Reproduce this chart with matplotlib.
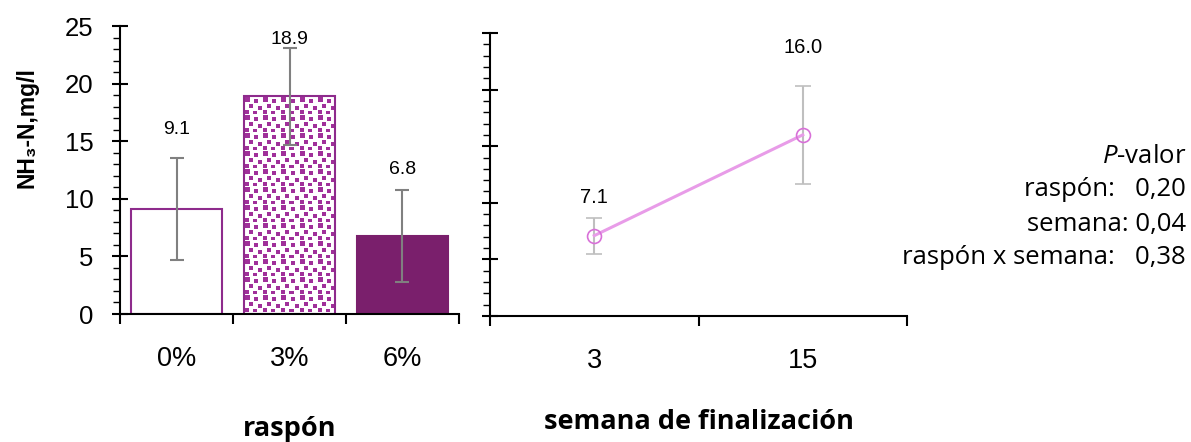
import numpy as np
import matplotlib
matplotlib.use("Agg")
import matplotlib.pyplot as plt
from matplotlib.ticker import MultipleLocator, FixedLocator

# datos
rasp_cats = ["0%", "3%", "6%"]
rasp_vals = [9.1, 18.9, 6.8]
rasp_err = [4.45, 4.2, 4.0]
rasp_label_y = [16.0, 23.8, 12.5]

sem_cats = ["3", "15"]
sem_vals = [7.1, 16.0]
sem_err = [1.6, 4.3]
sem_label_y = [10.5, 23.7]

pval_terms = ["raspón:   ", "semana: ", "raspón x semana:   "]
pval_vals = ["0,20", "0,04", "0,38"]

purple_edge = "#8E2B8C"
purple_dark = "#7A1F6C"
purple_dots = "#A0309A"
line_col = "#E89CE8"
marker_col = "#D870D8"

plt.rcParams["font.family"] = ["Liberation Sans", "DejaVu Sans"]
plt.rcParams["mathtext.fontset"] = "custom"
plt.rcParams["mathtext.it"] = "Open Sans:italic"
plt.rcParams["mathtext.rm"] = "Open Sans"
title_font = ["Open Sans", "DejaVu Sans"]

W, H = 1191, 442
fig = plt.figure(figsize=(W / 100, H / 100), dpi=100)
ax1 = fig.add_axes([120 / W, 1 - 314 / H, 339 / W, 288 / H])
ax2 = fig.add_axes([490 / W, 1 - 316 / H, 417 / W, 283 / H])

# ---- panel izquierdo: barras
x1 = np.arange(len(rasp_cats))
bars = ax1.bar(x1, rasp_vals, width=0.8,
               color=["white", "none", purple_dark],
               edgecolor=[purple_edge, purple_edge, purple_dark],
               linewidth=1.5, zorder=2)
ax1.errorbar(x1, rasp_vals, yerr=rasp_err, fmt="none", ecolor="#808080",
             elinewidth=1.5, capsize=5, capthick=1.5, zorder=3)
for xi, v, ly in zip(x1, rasp_vals, rasp_label_y):
    ax1.text(xi, ly, f"{v:.1f}", ha="center", va="center", fontsize=14)

ax1.set_xlim(-0.5, len(rasp_cats) - 0.5)
ax1.set_ylim(0, 25)

# relleno "confeti" de la barra de 3%
fig.canvas.draw()
bb = bars[1].get_window_extent()
tile = np.zeros((18, 18))
for r, c, s in [(1, 1, 5), (3, 10, 4), (8, 5, 4), (10, 14, 4), (14, 1, 4), (15, 9, 4)]:
    tile[r:r + s, c:c + s] = 1
pw, ph = int(round(bb.width)), int(round(bb.height))
mask = np.tile(tile, (ph // 18 + 1, pw // 18 + 1))[:ph, :pw]
rgb = np.array(matplotlib.colors.to_rgb(purple_dots))
img = np.ones((ph, pw, 3)) * (1 - mask[..., None]) + rgb * mask[..., None]
b = bars[1]
ax1.imshow(img, extent=(b.get_x(), b.get_x() + b.get_width(), 0, b.get_height()),
           aspect="auto", interpolation="nearest", zorder=1.5, clip_path=b)
ax1.set_xlim(-0.5, len(rasp_cats) - 0.5)
ax1.set_ylim(0, 25)

# ---- panel derecho: línea
x2 = np.arange(len(sem_cats))
ax2.errorbar(x2, sem_vals, yerr=sem_err, color=line_col, lw=2.2,
             marker="o", ms=10, mfc="none", mec=marker_col, mew=1.2,
             ecolor="#BFBFBF", elinewidth=1.5, capsize=6, capthick=1.5)
for xi, v, ly in zip(x2, sem_vals, sem_label_y):
    ax2.text(xi, ly, f"{v:.1f}", ha="center", va="center", fontsize=14.5)
ax2.set_xlim(-0.5, len(sem_cats) - 0.5)
ax2.set_ylim(0, 25)

for ax, cats in [(ax1, rasp_cats), (ax2, sem_cats)]:
    for s in ["top", "right"]:
        ax.spines[s].set_visible(False)
    for s in ["left", "bottom"]:
        ax.spines[s].set_linewidth(1.5)
    ax.set_yticks(range(0, 26, 5))
    ax.yaxis.set_minor_locator(MultipleLocator(1))
    ax.tick_params(axis="y", which="major", direction="inout", length=12,
                   width=1.5, labelsize=18.5, pad=13)
    ax.tick_params(axis="y", which="minor", direction="out", length=5, width=1)
    ax.set_xticks(range(len(cats)))
    ax.set_xticklabels(cats)
    ax.xaxis.set_minor_locator(FixedLocator(np.arange(-0.5, len(cats), 1)))
    ax.tick_params(axis="x", which="major", length=0, labelsize=19.5, pad=23)
    ax.tick_params(axis="x", which="minor", direction="out", length=7, width=1.5)

ax2.tick_params(axis="y", labelleft=False)

# títulos
fig.text(27 / W, 1 - 128 / H, "NH₃-N,mg/l", rotation=90, ha="center",
         va="center", fontsize=16.5, fontweight="bold")
fig.text(289.5 / W, 1 - 429 / H, "raspón", ha="center", va="center",
         fontsize=19.5, fontweight="bold", family=title_font)
fig.text(698.5 / W, 1 - 422 / H, "semana de finalización", ha="center",
         va="center", fontsize=19.5, fontweight="bold", family=title_font)

# P-valores
fig.text(1186 / W, 1 - 156 / H, r"$\mathit{P}$-valor", ha="right", va="center",
         fontsize=18.5, family=title_font)
for i, (t, v) in enumerate(zip(pval_terms, pval_vals)):
    fig.text(1186 / W, 1 - (190 + 34 * i) / H, t + v, ha="right", va="center",
             fontsize=18.5, family=title_font)

fig.savefig("out.png", dpi=100)
